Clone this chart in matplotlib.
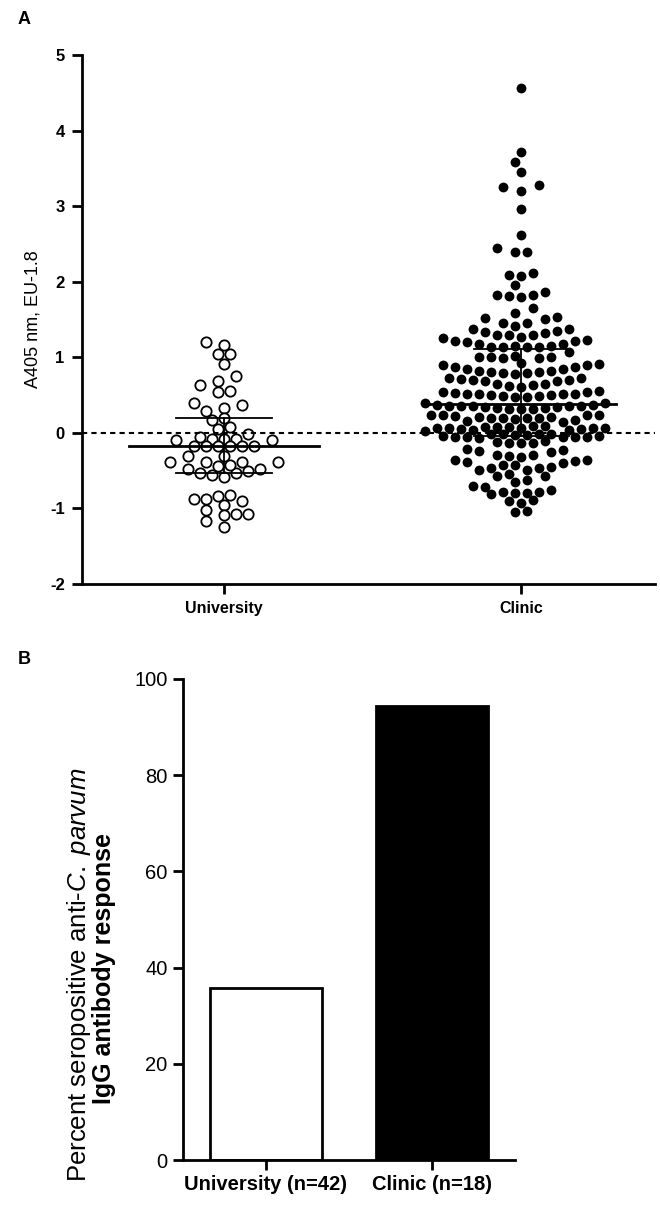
import numpy as np
import matplotlib.pyplot as plt

plt.rcParams['font.family'] = ['Liberation Sans', 'DejaVu Sans']
plt.rcParams['mathtext.fontset'] = 'custom'
plt.rcParams['mathtext.rm'] = 'Liberation Sans'
plt.rcParams['mathtext.it'] = 'Liberation Sans:italic'

# panel A data (A405 nm, EU-1.8)
groups = ["University", "Clinic"]
university = [1.20, 1.16, 1.04, 1.04, 0.91, 0.75, 0.68, 0.63, 0.56, 0.54,
              0.40, 0.37, 0.33, 0.29, 0.20, 0.17, 0.08, 0.05, -0.02,
              -0.05, -0.09, -0.09, -0.08, -0.08, -0.08,
              -0.18, -0.18, -0.18, -0.18, -0.18, -0.18, -0.31, -0.31,
              -0.39, -0.39, -0.39, -0.39,
              -0.44, -0.48, -0.53, -0.56, -0.58, -0.53, -0.50, -0.48, -0.42,
              -0.84, -0.87, -0.82, -0.90, -0.87, -0.95,
              -1.08, -1.09, -1.02, -1.08, -1.17, -1.25]
clinic = [4.56, 3.71, 3.58, 3.45, 3.28, 3.25, 3.20, 2.96, 2.62, 2.44, 2.39, 2.39,
          2.11, 2.09, 2.08, 1.95, 1.86, 1.83, 1.82, 1.81, 1.80, 1.65,
          1.58, 1.53, 1.52, 1.50,
          1.46, 1.45, 1.42, 1.37, 1.37, 1.35, 1.33, 1.32,
          1.29, 1.29, 1.29, 1.27,
          1.25, 1.23, 1.22, 1.22, 1.20, 1.17, 1.17, 1.15, 1.15, 1.14,
          1.13, 1.13, 1.13,
          1.07, 1.02, 1.01, 1.00, 1.00, 0.99, 0.99,
          0.92, 0.91, 0.90, 0.90, 0.87, 0.87, 0.84, 0.84, 0.82, 0.82, 0.80, 0.80, 0.79, 0.79, 0.78,
          0.73, 0.72, 0.71, 0.70, 0.70, 0.69, 0.68,
          0.65, 0.64, 0.63, 0.62, 0.61,
          0.55, 0.54, 0.54, 0.53, 0.52, 0.52, 0.51, 0.51, 0.50, 0.50, 0.49, 0.49, 0.48, 0.48,
          0.39, 0.39, 0.37, 0.37, 0.36, 0.36, 0.35, 0.35, 0.35, 0.34, 0.34, 0.33, 0.33, 0.32, 0.32, 0.31,
          0.24, 0.24, 0.23, 0.23, 0.22, 0.21, 0.21, 0.20, 0.20, 0.19, 0.19, 0.18, 0.17, 0.16, 0.14,
          0.09, 0.09, 0.08, 0.08, 0.08, 0.07, 0.07, 0.06, 0.06, 0.06, 0.05, 0.05, 0.04, 0.04, 0.03,
          -0.01, -0.01, -0.02, -0.02, -0.03, -0.03, -0.04, -0.04, -0.05, -0.05, -0.06, -0.06, -0.06, -0.07,
          -0.11, -0.12, -0.13, -0.13, -0.14,
          -0.21, -0.23, -0.24, -0.25,
          -0.29, -0.29, -0.30, -0.32,
          -0.36, -0.36, -0.37, -0.38, -0.40, -0.42, -0.43, -0.45, -0.47, -0.47, -0.49, -0.49, -0.54,
          -0.57, -0.57, -0.63,
          -0.65, -0.70, -0.71, -0.76, -0.78, -0.78, -0.79, -0.80, -0.81,
          -0.89, -0.90, -0.93,
          -1.03, -1.05]

# panel B data
bar_labels = ["University (n=42)", "Clinic (n=18)"]
percent_pos = [35.7, 94.4]


def swarm(ax, values, center, d=12.0, gap=0.035, span=0.133, clear=9.6):
    # Prism-like rows on a staggered lattice, pushed sideways when they would hit
    # dots already placed
    vals = np.array(values)
    order = np.argsort(vals, kind='stable')
    rows, cur = [], [order[0]]
    for i in order[1:]:
        if vals[i] - vals[cur[-1]] > gap or vals[i] - vals[cur[0]] > span:
            rows.append(cur)
            cur = [i]
        else:
            cur.append(i)
    rows.append(cur)

    ypix = ax.transData.transform(np.column_stack([np.full(len(vals), center), vals]))[:, 1]
    cx = ax.transData.transform((center, 0))[0]
    offs = np.zeros(len(vals))
    placed = []
    prev_shift, prev_top = 0.0, -1e9
    for row in rows:
        n = len(row)
        if ypix[row[0]] - prev_top >= 10:
            shift = 0.0 if n % 2 else 0.5
        else:
            shift = 0.5 - prev_shift
        lattice = sorted([(j + shift) * d for j in range(-40, 41)],
                         key=lambda x: (abs(x), x))
        used = set()
        for i in row:
            y = ypix[i]
            for c in lattice:
                if c in used:
                    continue
                if all((c - px) ** 2 + (y - py) ** 2 >= clear ** 2 for px, py in placed):
                    break
            used.add(c)
            offs[i] = c
        for i in row:
            placed.append((offs[i], ypix[i]))
        prev_shift, prev_top = shift, ypix[row[-1]]
    xs = ax.transData.inverted().transform(np.column_stack([cx + offs, ypix]))[:, 0]
    return xs, vals


fig = plt.figure(figsize=(6.6, 12.26), dpi=100)

# ---- panel A
ax1 = fig.add_axes([82 / 660, 1 - 584 / 1226, 573 / 660, 529 / 1226])
ax1.set_xlim(0.522, 2.451)
ax1.set_ylim(-2, 5)

ux, uy = swarm(ax1, university, 1)
cx_, cy = swarm(ax1, clinic, 2)
ax1.scatter(ux, uy, s=55, facecolors='white', edgecolors='black', linewidths=1.3, zorder=3)
ax1.scatter(cx_, cy, s=50, color='black', linewidths=0, zorder=3)

ax1.axhline(0, color='black', lw=1.5, ls=(0, (2.5, 2)), zorder=4)

for pos, data in zip([1, 2], [university, clinic]):
    q1, med, q3 = np.percentile(data, [25, 50, 75])
    ax1.plot([pos - 0.32, pos + 0.32], [med, med], color='black', lw=2, zorder=5)
    ax1.plot([pos - 0.16, pos + 0.16], [q1, q1], color='black', lw=1.3, zorder=5)
    ax1.plot([pos - 0.16, pos + 0.16], [q3, q3], color='black', lw=1.3, zorder=5)
    ax1.plot([pos, pos], [q1, q3], color='black', lw=1.3, zorder=5)

ax1.set_xticks([1, 2])
ax1.set_xticklabels(groups, fontsize=11.5, fontweight='bold')
ax1.set_yticks(range(-2, 6))
ax1.set_yticklabels([str(v) for v in range(-2, 6)], fontsize=12, fontweight='bold')
ax1.set_ylabel("A405 nm, EU-1.8", fontsize=13)
ax1.yaxis.set_label_coords(-0.07, 0.5)
ax1.spines['top'].set_visible(False)
ax1.spines['right'].set_visible(False)
ax1.spines['left'].set_linewidth(2)
ax1.spines['bottom'].set_linewidth(2)
ax1.tick_params(width=2, length=7.5, pad=5)

# ---- panel B
ax2 = fig.add_axes([183 / 660, 1 - 1160 / 1226, 332 / 660, 481 / 1226])
ax2.bar([1, 2], percent_pos, width=0.67, color=['white', 'black'],
        edgecolor='black', linewidth=2)
ax2.set_xlim(0.5, 2.5)
ax2.set_ylim(0, 100)
ax2.set_yticks(range(0, 101, 20))
ax2.set_yticklabels([str(v) for v in range(0, 101, 20)], fontsize=14.5)
ax2.set_xticks([1, 2])
ax2.set_xticklabels(bar_labels, fontsize=14.5, fontweight='bold')
ax2.spines['top'].set_visible(False)
ax2.spines['right'].set_visible(False)
ax2.spines['left'].set_linewidth(2)
ax2.spines['bottom'].set_linewidth(2)
ax2.tick_params(width=2, length=7, pad=4)

fig.text(79 / 660, 0.205, r"Percent seropositive anti-$\mathit{C.\ parvum}$",
         rotation=90, ha='center', va='center', fontsize=18.5)
fig.text(104 / 660, 0.210, "IgG antibody response", rotation=90,
         ha='center', va='center', fontsize=18, fontweight='bold')

fig.text(18 / 660, 1 - 20 / 1226, "A", fontsize=13, fontweight='bold', va='center')
fig.text(18 / 660, 1 - 660 / 1226, "B", fontsize=13, fontweight='bold', va='center')

fig.savefig("out.png", dpi=100)
